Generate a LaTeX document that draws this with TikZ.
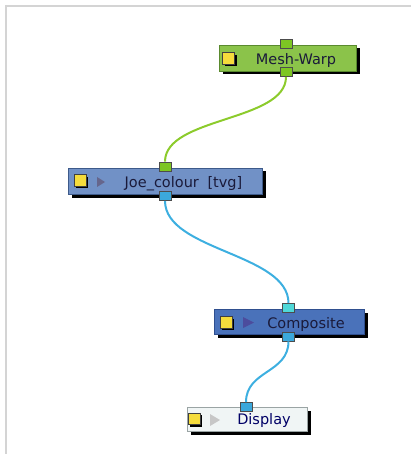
\documentclass[tikz,border=0pt]{standalone}
\usepackage{fontspec}
\setmainfont{DejaVu Sans}
\usetikzlibrary{shadows}
\definecolor{meshfill}{HTML}{8BC34A}
\definecolor{meshedge}{HTML}{5A8A2E}
\definecolor{joefill}{HTML}{7191C6}
\definecolor{joeedge}{HTML}{3D5A8A}
\definecolor{compfill}{HTML}{4A72BA}
\definecolor{compedge}{HTML}{2F4F8F}
\definecolor{dispfill}{HTML}{F0F5F5}
\definecolor{dispedge}{HTML}{9AA4A4}
\definecolor{greenport}{HTML}{7DC623}
\definecolor{blueport}{HTML}{3BA8DC}
\definecolor{cyanport}{HTML}{4FD8D8}
\definecolor{greenwire}{HTML}{8CCB2C}
\definecolor{bluewire}{HTML}{3DAFE0}
\definecolor{yellowsq}{HTML}{F5DC3C}
\definecolor{frame}{HTML}{D4D4D4}
\definecolor{txtdark}{HTML}{1A1A3A}
\begin{document}
\begin{tikzpicture}[x=1pt,y=-1pt,
  nodebox/.style={rectangle,inner sep=0pt,line width=0.8pt,
    general shadow={fill=black,shadow xshift=3.5pt,shadow yshift=-3.5pt}},
  portbox/.style={rectangle,inner sep=0pt,minimum width=12pt,minimum height=9pt,line width=0.7pt,draw=black!70},
  ysq/.style={rectangle,inner sep=0pt,minimum width=12pt,minimum height=11.5pt,fill=yellowsq,draw=black!75,line width=0.6pt,
    general shadow={fill=black,shadow xshift=2pt,shadow yshift=-2pt}},
  lbl/.style={anchor=base,inner sep=0pt,font=\fontsize{14.5}{15}\selectfont,text=txtdark},
  wire/.style={line width=2pt}]
\useasboundingbox (0,0) rectangle (411,454);
\draw[frame,line width=2pt] (5,6) -- (411,6);
\draw[frame,line width=2pt] (6,5) -- (6,454);

% boxes
\node[nodebox,fill=meshfill,draw=meshedge,minimum width=137pt,minimum height=26pt] (mesh) at (287.5,58) {};
\node[nodebox,fill=joefill,draw=joeedge,minimum width=194pt,minimum height=26pt] (joe) at (165,181) {};
\node[nodebox,fill=compfill,draw=compedge,minimum width=150pt,minimum height=25pt] (comp) at (289,321.5) {};
\node[nodebox,fill=dispfill,draw=dispedge,minimum width=120pt,minimum height=24pt] (disp) at (247,419) {};

% icons
\node[ysq] (meshy) at (228.5,58.5) {};
\node[ysq] (joey) at (80,180.5) {};
\node[ysq] (compy) at (226,322.5) {};
\node[ysq] (dispy) at (194,419) {};
\fill[black!75!blue!60] (97,177) -- (105,182) -- (97,187) -- cycle;
\fill[black!55!blue!70] (243,317) -- (254,322.5) -- (243,328) -- cycle;
\fill[black!22] (210,414) -- (220,420) -- (210,426) -- cycle;

% labels
\node[lbl] (meshtxt) at (296,65) {Mesh-Warp};
\node[lbl] (joetxt) at (183.5,187.3) {Joe\_colour\hspace{4pt} [tvg]};
\node[lbl] (comptxt) at (306,328.3) {Composite};
\node[lbl,text=black!60!blue] (disptxt) at (264,424) {Display};

% ports
\node[portbox,fill=greenport] (meshtop) at (286,43.5) {};
\node[portbox,fill=greenport] (meshbot) at (286,72) {};
\node[portbox,fill=greenport] (joetop) at (165,166.5) {};
\node[portbox,fill=blueport] (joebot) at (165,196) {};
\node[portbox,fill=cyanport] (comptop) at (288.5,308) {};
\node[portbox,fill=blueport] (compbot) at (288.5,336.5) {};
\node[portbox,fill=blueport] (disptop) at (246,407) {};

% connectors
\draw[wire,greenwire] (meshbot.south) .. controls +(0,45) and +(0,-45) .. (joetop.north);
\draw[wire,bluewire] (joebot.south) .. controls +(0,50) and +(0,-50) .. (comptop.north);
\draw[wire,bluewire] (compbot.south) .. controls +(0,32) and +(0,-32) .. (disptop.north);
\end{tikzpicture}
\end{document}
